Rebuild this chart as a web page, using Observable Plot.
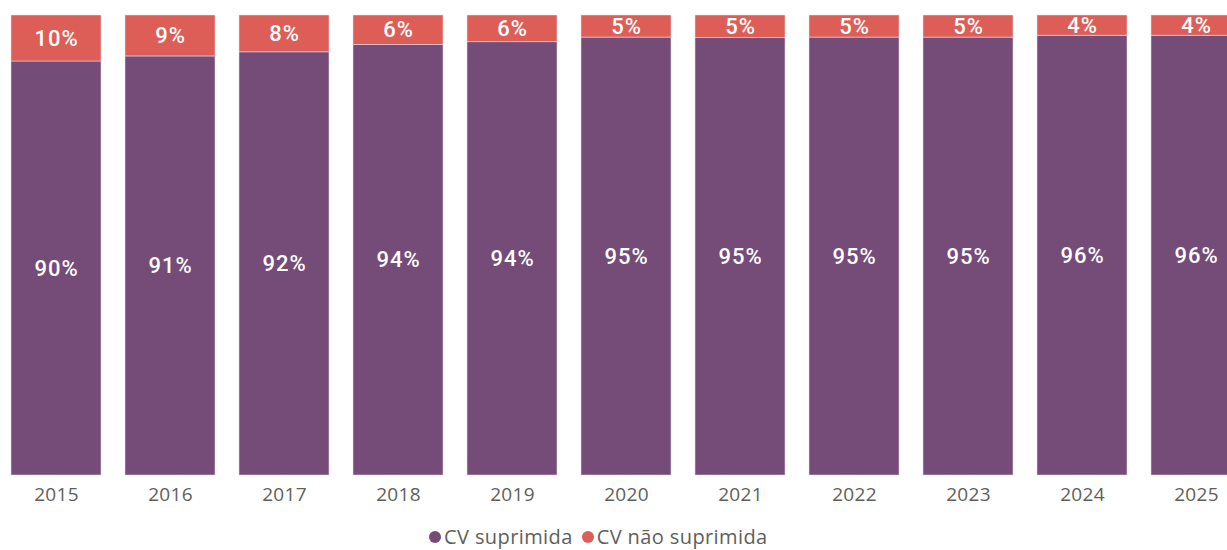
<!DOCTYPE html>
<html>
<head>
<meta charset="utf-8">
<script src="https://cdn.jsdelivr.net/npm/d3@7"></script>
<script src="https://cdn.jsdelivr.net/npm/@observablehq/plot@0.6"></script>
<style>
  html, body { margin: 0; padding: 0; background: #fff; overflow: hidden; }
  #wrap { width: 1227px; height: 550px; position: relative; overflow: hidden; }
  #chart svg { overflow: hidden; }
  .barlabels text { letter-spacing: 1px; }
  .xaxis text { letter-spacing: 0.3px; }
  #legend { position: absolute; left: 429px; top: 523px; font-family: "Open Sans", sans-serif; font-size: 20px; letter-spacing: 0.4px; color: #605E5C; display: flex; align-items: center; white-space: nowrap; }
  #legend .item { display: flex; align-items: center; margin-right: 9px; }
  #legend .dot { width: 12px; height: 12px; border-radius: 50%; margin-right: 3px; }
</style>
</head>
<body>
<div id="wrap">
  <div id="chart"></div>
  <div id="legend"></div>
</div>
<script>
const years = ["2015","2016","2017","2018","2019","2020","2021","2022","2023","2024","2025"];
const suprimida = [90.0, 91.1, 92.0, 93.6, 94.2, 95.2, 95.1, 95.2, 95.2, 95.6, 95.6];
const naoSuprimida = [10.0, 8.9, 8.0, 6.4, 5.8, 4.8, 4.9, 4.8, 4.8, 4.4, 4.4];
const seriesNames = ["CV suprimida", "CV não suprimida"];
const seriesColors = ["#754C78", "#DD5E57"];

const data = [];
years.forEach((y, i) => {
  data.push({year: y, series: seriesNames[0], value: suprimida[i]});
  data.push({year: y, series: seriesNames[1], value: naoSuprimida[i]});
});

const plot = Plot.plot({
  width: 1227,
  height: 510,
  marginTop: 15,
  marginBottom: 35,
  marginLeft: 0,
  marginRight: 0,
  style: {fontFamily: "'Open Sans', sans-serif", background: "transparent", overflow: "hidden"},
  x: {domain: years, range: [-1, 1253], paddingInner: 0.21, paddingOuter: 0.105, label: null},
  y: {domain: [0, 100], axis: null},
  color: {domain: seriesNames, range: seriesColors},
  marks: [
    Plot.barY(data, Plot.stackY({x: "year", y: "value", z: "series", order: seriesNames, fill: "series", stroke: "#eadcec", strokeWidth: 0.8, strokeOpacity: 0.7})),
    Plot.text(data, Plot.stackY({x: "year", y: "value", z: "series", order: seriesNames,
      text: d => Math.round(d.value) + "%", fill: "white", fontSize: 22, fontWeight: 500,
      fontFamily: "Roboto, sans-serif", className: "barlabels"})),
    Plot.axisX({tickSize: 0, tickPadding: 12, fontSize: 19, color: "#605E5C", label: null, className: "xaxis"})
  ]
});
document.getElementById("chart").appendChild(plot);

const legend = document.getElementById("legend");
seriesNames.forEach((n, i) => {
  const it = document.createElement("div");
  it.className = "item";
  const dot = document.createElement("span");
  dot.className = "dot";
  dot.style.background = seriesColors[i];
  const t = document.createElement("span");
  t.textContent = n;
  it.appendChild(dot); it.appendChild(t);
  legend.appendChild(it);
});
</script>
</body>
</html>
